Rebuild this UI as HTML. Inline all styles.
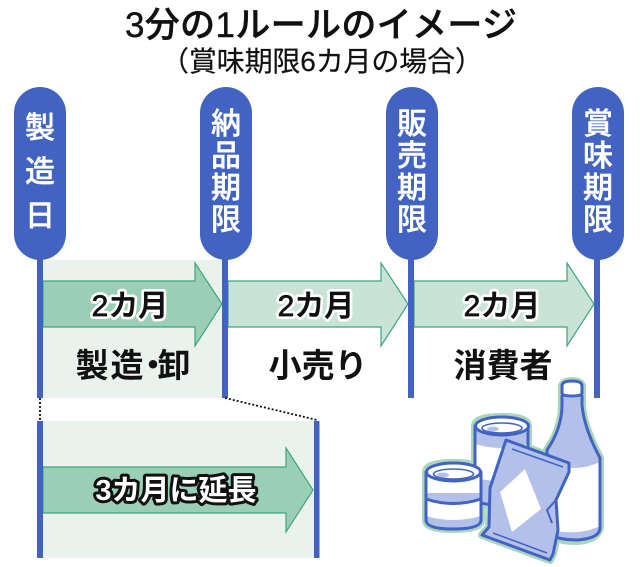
<!DOCTYPE html>
<html lang="ja"><head><meta charset="utf-8"><style>
html,body{margin:0;padding:0;background:#fff}
svg{display:block}
text{font-family:"Liberation Sans","Noto Sans CJK JP",sans-serif;text-anchor:middle}
.p{fill:#fff;font-size:30px;font-weight:500;stroke:#fff;stroke-width:.4px}
.mh{font-size:30px;font-weight:500;fill:#fff;stroke:#fff;stroke-width:6px;stroke-linejoin:round}
.m{font-size:30px;font-weight:500;fill:#111;stroke:#111;stroke-width:.7px}
.l{font-size:33px;font-weight:700;fill:#111}
.s{stroke:#4263c2;stroke-width:3;stroke-linejoin:round;stroke-linecap:round}
.h{stroke:#a9d6bd;stroke-width:8;stroke-linejoin:round;fill:#a9d6bd}
</style></head><body>
<svg width="640" height="567" viewBox="0 0 640 567" xmlns="http://www.w3.org/2000/svg">
<text x="321" y="37" font-size="35" font-weight="500" fill="#111" stroke="#111" stroke-width=".4" textLength="392" lengthAdjust="spacing">3分の1ルールのイメージ</text>
<text x="322" y="71" font-size="28" fill="#111" stroke="#111" stroke-width=".2" textLength="322" lengthAdjust="spacing">（賞味期限6カ月の場合）</text>

<rect x="43" y="260" width="179" height="138" fill="#e9f2ec"/>
<rect x="43" y="421" width="271" height="137" fill="#e9f2ec"/>

<g stroke="#3fa57c" stroke-width="1.2">
<path d="M43 281H195V263L222 304L195 346V327H43Z" fill="#9bcfb5"/>
<path d="M228 281H381V263L408 304L381 346V327H228Z" fill="#c9e4d7"/>
<path d="M414 281H567V263L594 304L567 346V327H414Z" fill="#c9e4d7"/>
<path d="M43 467H286V448L313 490L286 532V513H43Z" fill="#9bcfb5"/>
</g>

<g fill="#4263c2">
<rect x="37" y="250" width="6" height="148"/><rect x="222" y="250" width="6" height="148"/>
<rect x="408" y="250" width="6" height="148"/><rect x="594" y="250" width="6" height="148"/>
<rect x="37" y="421" width="6" height="137"/><rect x="314" y="421" width="5.5" height="137"/>
<rect x="14" y="87" width="52" height="173" rx="26"/>
<rect x="200" y="87" width="52" height="173" rx="26"/>
<rect x="386" y="87" width="52" height="173" rx="26"/>
<rect x="572" y="87" width="52" height="173" rx="26"/>
</g>
<g stroke="#111" stroke-width="1.8" stroke-dasharray="2 2" fill="none">
<path d="M40 398V421"/><path d="M225 398L317 420"/>
</g>

<g class="p">
<text x="40" y="138">製</text><text x="40" y="182">造</text><text x="40" y="226">日</text>
<text x="226" y="134">納</text><text x="226" y="166">品</text><text x="226" y="198">期</text><text x="226" y="230">限</text>
<text x="412" y="134">販</text><text x="412" y="166">売</text><text x="412" y="198">期</text><text x="412" y="230">限</text>
<text x="598" y="134">賞</text><text x="598" y="166">味</text><text x="598" y="198">期</text><text x="598" y="230">限</text>
</g>

<text class="mh" x="130" y="316">2カ月</text><text class="m" x="130" y="316">2カ月</text>
<text class="mh" x="316" y="316">2カ月</text><text class="m" x="316" y="316">2カ月</text>
<text class="mh" x="502" y="316">2カ月</text><text class="m" x="502" y="316">2カ月</text>
<text class="l" x="92" y="377">製</text><text class="l" x="127" y="377">造</text>
<text class="l" x="153" y="377">・</text><text class="l" x="174" y="377">卸</text>
<text class="l" x="318" y="377">小売り</text>
<text class="l" x="503" y="377">消費者</text>
<text x="176" y="500" font-size="29" font-weight="700" fill="#fff" stroke="#111" stroke-width="6" paint-order="stroke" stroke-linejoin="round">3カ月に延長</text>

<!-- halo -->
<path class="h" d="M562 387Q562 381 572 381Q582 381 582 387V396V405Q583 425 600 458V528Q596 541 575 541Q557 541 553 535V470L547 450Q562 428 562 405Z"/>
<path class="h" d="M475 426Q475 417 502 417Q528 417 528 426V505H475Z"/>
<path class="h" d="M426 472Q426 463 453 463Q481 463 481 472V520Q481 529 453 529Q426 529 426 520Z"/>
<path class="h" d="M506 440L569 463V472L556 500L558 530L553 554L550 560L482 535L489 527L490 488Z"/>

<!-- bottle -->
<path d="M562 396V405Q562 428 547 450V533Q557 540 578 540Q600 538 600 528V458Q584 428 582 405V396Z" fill="#fff"/>
<path d="M562 396V405Q562 428 547 450V462Q575 474 600 462V458Q584 428 582 405V396Z" fill="#b3c0ea"/>
<path d="M550 530Q580 536 600 526V530Q595 540 578 540Q557 540 550 534Z" fill="#b3c0ea"/>
<path class="s" d="M562 396V405Q562 428 547 450V533Q557 540 578 540Q600 538 600 528V458Q584 428 582 405V396" fill="none"/>
<path class="s" d="M562 386Q562 381 572 381Q582 381 582 386V393Q582 396 572 396Q562 396 562 393Z" fill="#fff"/>

<!-- big can -->
<path d="M475 426V498Q475 505 502 505Q528 505 528 498V426Z" fill="#fff"/>
<path d="M475 430H528V444Q502 452 475 444Z" fill="#b3c0ea"/>
<path d="M475 478Q502 484 528 478V498Q528 505 502 505Q475 505 475 498Z" fill="#b3c0ea"/>
<path class="s" d="M475 426V498Q475 505 502 505Q528 505 528 498V426" fill="none"/>
<ellipse class="s" cx="502" cy="426" rx="26.5" ry="9" fill="#fff"/>
<ellipse cx="502" cy="428" rx="20" ry="5" fill="#fff" stroke="#4263c2" stroke-width="1.6"/>
<ellipse cx="493" cy="429" rx="6" ry="2.5" fill="#b3c0ea"/>

<!-- small can -->
<path d="M426 472V520Q426 529 453 529Q481 529 481 520V472Z" fill="#fff"/>
<path d="M426 493H481V500Q453 510 426 500Z" fill="#b3c0ea"/>
<path d="M426 516Q453 524 481 516V520Q481 529 453 529Q426 529 426 520Z" fill="#b3c0ea"/>
<path class="s" d="M426 472V520Q426 529 453 529Q481 529 481 520V472" fill="none"/>
<path class="s" d="M426 499Q453 508 481 499" fill="none" stroke-width="3.4"/>
<ellipse class="s" cx="453.500" cy="472" rx="27" ry="9" fill="#fff"/>
<ellipse cx="453.500" cy="474" rx="20" ry="5" fill="#fff" stroke="#4263c2" stroke-width="1.6"/>
<ellipse cx="443" cy="475" rx="6" ry="2.5" fill="#b3c0ea"/>

<!-- pouch -->
<path class="s" d="M506 440L569 463V472L556 500L558 530L553 554L550 560L482 535L489 527L490 488Z" fill="#b3c0ea"/>
<path d="M525 469L541 509L512 532L500 492Z" fill="#fff"/>
<path d="M512 449L563 467M493 533L547 553" stroke="#4263c2" stroke-width="1.5" fill="none"/>
<path d="M556 500L547 510L552 523" stroke="#4263c2" stroke-width="2" stroke-linejoin="round" fill="none"/>
</svg>
</body></html>
